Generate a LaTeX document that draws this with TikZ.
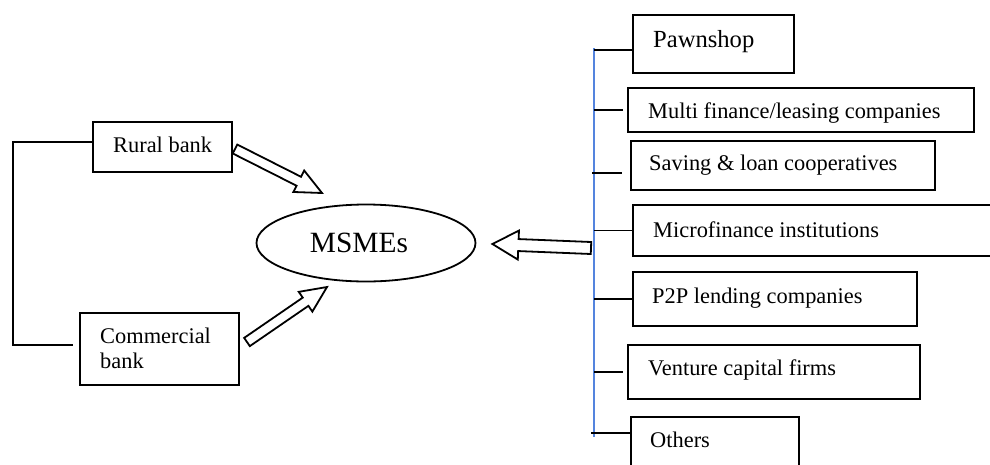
\documentclass[tikz,border=0pt]{standalone}
\usepackage{fontspec}
\setmainfont{Liberation Serif}
\usetikzlibrary{calc,shapes.geometric}
\definecolor{busblue}{RGB}{84,132,222}

% hollow block arrow: #1 tail, #2 tip, #3 half shaft width, #4 half head width, #5 head length
\newcommand\hollowarrow[5]{%
  \coordinate (ha-base) at ($(#2)!#5!(#1)$);
  \draw[arrowline] ($(#1)!#3!90:(#2)$) -- ($(ha-base)!#3!90:(#2)$)
    -- ($(ha-base)!#4!90:(#2)$) -- (#2) -- ($(ha-base)!#4!-90:(#2)$)
    -- ($(ha-base)!#3!-90:(#2)$) -- ($(#1)!#3!-90:(#2)$) -- cycle;}

\begin{document}
\begin{tikzpicture}[x=1pt,y=-1pt,
  box/.style={draw,line width=2pt,anchor=north west,inner sep=0pt},
  txt/.style={anchor=base west,inner sep=0pt,font=\fontsize{22.4}{25}\selectfont},
  link/.style={line width=1.9pt},
  arrowline/.style={draw,line width=1.8pt,fill=white,line join=miter},
  bus/.style={line width=1.2pt,draw=busblue}]
\useasboundingbox (0,0) rectangle (990,464);
\fill[white] (0,0) rectangle (990,464);

% centre
\node[draw,ellipse,line width=1.8pt,minimum width=219pt,minimum height=77pt,inner sep=0pt,
      font=\fontsize{29.4}{32}\selectfont] (msme) at (366,243) {MSMEs\hspace*{14pt}};

% banks
\node[box,minimum width=139pt,minimum height=50pt] (rural) at (92,121) {};
\node[txt] (rural-t) at (113,152) {Rural bank};
\node[box,minimum width=159pt,minimum height=72pt] (comm) at (79,312) {};
\node[txt] (comm-t) at (100,343) {\begin{tabular}[t]{@{}l@{}}Commercial\\bank\end{tabular}};

\coordinate (spine) at (13,0);
\coordinate (r1) at ($(rural.west)+(0,-5)$);
\coordinate (c1) at ($(comm.west)+(-6,-4)$);
\draw[link] (r1) -- (spine |- r1) -- (spine |- c1) -- (c1);

% non-bank institutions
\node[box,minimum width=161pt,minimum height=58pt] (pawn) at (632,14) {};
\node[txt,font=\fontsize{24.6}{27}\selectfont] (pawn-t) at (653,47) {Pawnshop};
\node[box,minimum width=346pt,minimum height=44pt] (multi) at (627,87) {};
\node[txt] (multi-t) at (648,118) {Multi finance/leasing companies};
\node[box,minimum width=304pt,minimum height=49pt] (saving) at (630,140) {};
\node[txt] (saving-t) at (649,170) {Saving \& loan cooperatives};
\node[box,minimum width=400pt,minimum height=51pt] (micro) at (632,204) {};
\node[txt] (micro-t) at (653,237) {Microfinance institutions};
\node[box,minimum width=284pt,minimum height=54pt] (p2p) at (632,271) {};
\node[txt] (p2p-t) at (652,303) {P2P lending companies};
\node[box,minimum width=292pt,minimum height=54pt] (venture) at (627,344) {};
\node[txt] (venture-t) at (648,375) {Venture capital firms};
\node[box,minimum width=168pt,minimum height=60pt] (others) at (630,416) {};
\node[txt] (others-t) at (650,447) {Others};

% bus line and ticks
\coordinate (bus-top) at (594,48);
\coordinate (bus-bot) at (594,437);
\draw[bus] (bus-top) -- (bus-bot);
\coordinate (t-pawn) at ($(pawn.west)+(0,6)$);
\coordinate (t-saving) at ($(saving.west)+(-8,7.5)$);
\coordinate (t-others) at ($(others.north west)+(0,17)$);
\draw[link] (bus-top |- t-pawn) -- (t-pawn);
\draw[link] (bus-top |- multi.west) -- ($(multi.west)+(-4,0)$);
\draw[link] ($(bus-top |- t-saving)+(-2,0)$) -- (t-saving);
\draw[link] (bus-top |- micro.west) -- (micro.west);
\draw[link] (bus-top |- p2p.west) -- (p2p.west);
\draw[link] (bus-top |- venture.west) -- ($(venture.west)+(-4,0)$);
\draw[link] ($(bus-top |- t-others)+(-3,0)$) -- (t-others);

% block arrows into MSMEs
\coordinate (ra-tail) at ($(rural.east)+(2,2)$);
\coordinate (ra-tip) at (322,193);
\hollowarrow{ra-tail}{ra-tip}{5pt}{12pt}{26pt}
\coordinate (ca-tail) at ($(comm.east)+(7,-7)$);
\coordinate (ca-tip) at (327,287);
\hollowarrow{ca-tail}{ca-tip}{5pt}{12pt}{26pt}
\coordinate (ma-tail) at (591,248);
\coordinate (ma-tip) at ($(msme.east)+(16,1)$);
\hollowarrow{ma-tail}{ma-tip}{6pt}{14.5pt}{26pt}
\end{tikzpicture}
\end{document}
